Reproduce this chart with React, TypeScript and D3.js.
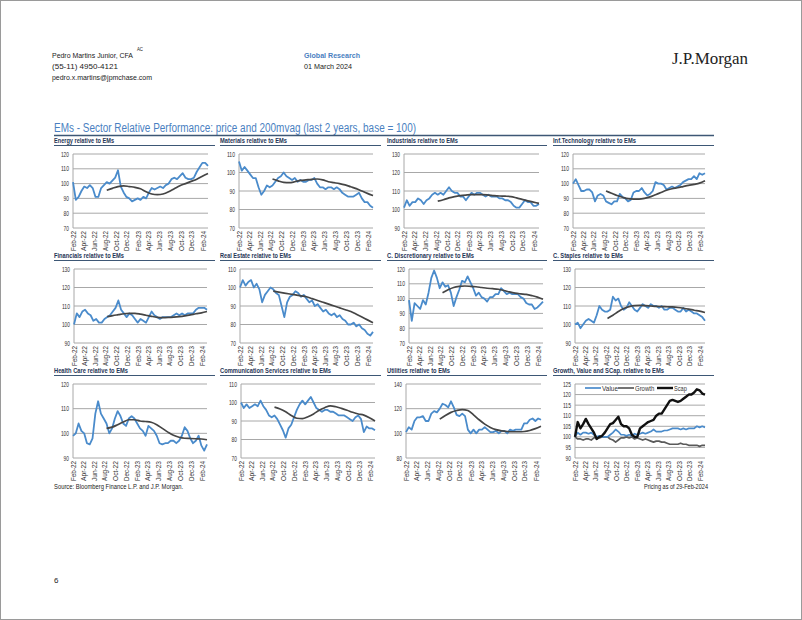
import React from 'react';
import * as d3 from 'd3';

// ---------- DATA ----------
const xTickLabels = ['Feb-22','Apr-22','Jun-22','Aug-22','Oct-22','Dec-22','Feb-23','Apr-23','Jun-23','Aug-23','Oct-23','Dec-23','Feb-24'];

const energy = [101,89,91,95,98,97,99,97,91,91, 97,99,101,100,102,104,109,98,94,91, 90,88,89,90,89,91,90,94,97,96, 97,98,97,99,100,103,104,103,105,107, 104,103,103,104,108,111,114,114,112];
const energyMA = [95.5,96.8,98,98.5,98,97.5,96.5,94.5,93,92.5,93,94.5,96.5,98.5,100,101.5,103,105,106.8];

const materials = [106,101,103,101,99,97,97,92,88,90, 93,92,93,95,97,98,100,98,97,96, 97,95,96,95,95,96,96,97,94,92, 92,91,92,92,91,92,91,89,88,87, 87,87,88,89,86,84,84,82,81];
const materialsMA = [96.5,95.5,94.7,94.5,95,95.7,96,96.3,96.5,96,95,94.5,94,93.3,92.3,91.3,90,88.7,87.5];

const industrials = [101,105,102,104,104,106,105,103,105,106, 108,109,108,109,108,110,112,110,109,109, 107,107,105,107,109,108,109,109,108,107, 108,107,107,107,106,106,105,105,104,102, 101,101,103,105,104,104,102,102,103];
const industrialsMA = [104.5,105.3,106.3,107,107.5,107.8,108,108,108,107.8,107.5,107.3,107.2,107,106.3,105.5,104.7,104,103.3];

const infTech = [100,103,99,95,95,96,96,94,88,92, 93,92,88,87,86,88,88,93,91,90, 88,89,94,95,95,97,94,92,93,95, 101,100,100,99,96,97,98,97,98,99, 101,102,103,103,105,103,107,106,107];
const infTechMA = [95,93.5,92,90.8,89.8,89.5,89.5,90,91,92.5,94,95.5,96.5,97.2,98,98.8,99.5,100.3,102];

const financials = [100,106,104,107,108,106,105,102,103,101, 101,103,104,105,107,109,113,108,106,104, 106,105,103,101,103,102,101,104,107,105, 104,103,104,104,104,104,105,106,105,106, 105,106,106,106,108,109,109,109,108];
const financialsMA = [104.2,104.8,105.3,105.8,106,106,105.6,105,104.4,103.9,103.7,103.8,104,104.3,104.7,105.2,105.8,106.3,107];

const realEstate = [100,104,101,103,104,100,102,99,92,96, 98,100,99,97,96,90,84,92,95,96, 98,97,95,96,94,92,93,90,91,89, 87,88,86,85,86,84,85,83,82,80, 80,81,79,80,78,77,75,74,76];
const realEstateMA = [98,97.5,97,96.5,96,95.5,95,94,93,92,91,90,89,88,87,85.5,84,82.5,81];

const discretionary = [99,85,97,95,93,99,96,104,114,119, 114,107,111,108,109,104,95,101,106,112, 111,115,111,107,102,104,101,100,98,101, 101,103,103,107,105,103,104,103,103,103, 101,100,97,96,96,93,94,96,98];
const discretionaryMA = [104,106,107.5,108.2,108.5,108.3,108,107.5,107,106.7,106.3,105.5,104.5,103.7,103.2,102.8,102,101,99.5];

const staples = [100,101,98,100,102,103,102,101,105,110, 108,107,107,108,115,113,114,110,108,109, 112,110,108,107,109,111,110,109,111,110, 110,109,110,108,108,109,109,108,107,107, 109,107,108,107,106,106,105,104,102];
const staplesMA = [103.3,105,107,108.7,109.7,110.2,110.3,110.2,110,109.8,109.7,109.6,109.5,109.2,108.8,108.3,107.7,107.2,106.5];

const healthCare = [99,100,104,101,100,96,95.5,98,108,113, 108,106,104,100,102,106,109,107,104,103, 106,107,106,104,102,101,99,103,102,101, 99,96,95.5,96,96,97,97,96,97,99, 102.5,101,98,96,97,99,95,93,95.5];
const healthCareMA = [102,102.5,103.5,104.6,105.5,105.5,105,104.8,104.5,103.5,102,100.5,99.2,98.4,98,97.9,97.8,97.7,97.4];

const commServices = [100,97,99,97,98,99,98,101,98,96, 93,92,93,91,88,85,81,86,88,92, 96,99,101,99,101,103,100,97,96,95, 96,96,95,95,94,93,93,93,92,91, 90,92,93,91,84,87,86,86,85];
const commServicesMA = [97.5,96.5,95,93,91.5,91.3,92.3,93.8,95.8,97.2,98.2,97.7,96.8,95.8,94.7,93.8,93.2,91.8,90];

const utilities = [101,105,103,110,113,113,114,110,110,116, 118,117,120,124,123,121,126,121,115,114, 116,114,103,100,103,100,103,103,105,103, 101,101,102,100,102,102,100,103,102,103, 103,103,108,108,111,112,110,112,111];
const utilitiesMA = [111.5,114.5,117,118.5,119.3,118.5,115,111,107.5,104.8,103,102,101.5,101.3,101.3,101.5,102.3,103.8,105.8];

const styleValue = [100,102,101,102,102,101.5,102,101,100,100.5, 100,100,100,101,102,103.5,102.5,101,101,100.5, 101,100.5,101.5,101,101.5,102,101.5,102,102.5,103.5, 102.5,102.5,102.5,103,103,103.5,104,104,104,103.5, 104,103.5,104,104,104,105,104.5,105,104.5];
const styleGrowth = [100,99,99,98.5,99,99,98.5,99.5,100,99.5, 100,100,100,99,98.5,97.5,98.5,99.5,99.5,100, 99.5,100,99,99.5,99,98.5,99,98.5,98,97.5, 98,98,97.5,97.5,97,96.5,96.5,96.5,96.5,97, 96.5,96.5,96,96,96,96,95.5,96,96];
const styleScap = [100,107,104,106,108.5,106,104,102,99,100, 100.5,102,104,106,106.5,108,109.5,106,105,105, 104,101,100,100,104,105,106,107,107.5,108, 110,111,111,113,115,117,117.5,117,116.5,117, 118,119,120,120,121,122.5,122,120.5,120];

const panelTitles = ['Energy relative to EMs','Materials relative to EMs','Industrials relative to EMs','Inf.Technology relative to EMs','Financials relative to EMs','Real Estate relative to EMs','C. Discretionary relative to EMs','C. Staples relative to EMs','Health Care relative to EMs','Communication Services relative to EMs','Utilities relative to EMs','Growth, Value and SCap. relative to EMs'];
const priceSeries = [energy, materials, industrials, infTech, financials, realEstate, discretionary, staples, healthCare, commServices, utilities];
const maSeries = [energyMA, materialsMA, industrialsMA, infTechMA, financialsMA, realEstateMA, discretionaryMA, staplesMA, healthCareMA, commServicesMA, utilitiesMA];
const yTickSets = [
  [70,80,90,100,110,120],[70,80,90,100,110],[90,100,110,120,130],[70,80,90,100,110,120],
  [90,100,110,120,130],[70,80,90,100,110],[70,80,90,100,110,120],[90,100,110,120,130],
  [90,100,110,120],[70,80,90,100,110],[80,100,120,140],[90,95,100,105,110,115,120,125],
];
const legendLabels = ['Value','Growth','Scap'];

// ---------- LAYOUT / STYLE ----------
const FONT = "'Liberation Sans', Arial, Helvetica, sans-serif";
const BLUE = '#4a8bcb';
const MA_COLOR = '#454545';
const GRID = '#a8a8a8';
const NAVY = '#1f3556';
const RULE = '#3d5775';

const colTitleX = [54, 220, 387, 553];
const colRuleEnd = [215, 381, 547, 714];
const rowTitleY = [140, 255, 370];
const rowTop = [154, 269, 384];
const rowBottom = [228, 343, 458];
const plotLR = [
  [73,208],[239,373],[404,539],[573,705],
  [74,207],[240,373],[409,543],[575,705],
  [73,207],[241,375],[406,541],[575,705],
];
const titleWidths = [60,67,71,83,70,71,87,70,74,111,63,111];

const startDate = new Date(2022, 1, 1);
const endDate = new Date(2024, 1, 29);
const N = energy.length;
const dates = d3.range(N).map(i => new Date(+startDate + (i * (+endDate - +startDate)) / (N - 1)));
const maIdx = d3.range(12, N, 2);
const xTickDates = xTickLabels.map(l => d3.timeParse('%b-%y')(l) as Date);

function Txt(props: any) {
  const { x, y, w, size = 7, anchor = 'start', fill = '#222', weight = 'normal', transform, children, baseline, family } = props;
  return (
    <text x={x} y={y} transform={transform} fontSize={size} fontFamily={family || FONT} fontWeight={weight}
      fill={fill} textAnchor={anchor} dominantBaseline={baseline}
      textLength={w} lengthAdjust={w ? 'spacingAndGlyphs' : undefined}>{children}</text>
  );
}

function Panel({ idx }: { idx: number }) {
  const row = Math.floor(idx / 4), col = idx % 4;
  const [L, R] = plotLR[idx];
  const top = rowTop[row], bottom = rowBottom[row];
  const ticks = yTickSets[idx];
  const x = d3.scaleTime().domain([startDate, endDate]).range([L, R]);
  const y = d3.scaleLinear().domain([ticks[0], ticks[ticks.length - 1]]).range([bottom, top]);
  const line = d3.line<number>().x((_, i) => x(dates[i])).y(d => y(d));
  const maLine = d3.line<number>().x((_, k) => x(dates[maIdx[k]])).y(d => y(d)).curve(d3.curveMonotoneX);
  const tx = colTitleX[col], ty = rowTitleY[row];
  return (
    <g>
      <Txt x={tx} y={ty + 2.5} w={titleWidths[idx]} size={8} weight="bold" fill={NAVY}>{panelTitles[idx]}</Txt>
      <line x1={tx} x2={colRuleEnd[col]} y1={ty + 5.5} y2={ty + 5.5} stroke={RULE} strokeWidth={1.2} />
      {ticks.map(t => (
        <g key={t}>
          <line x1={L} x2={R} y1={y(t)} y2={y(t)} stroke={GRID} strokeWidth={1} />
          <Txt x={L - 4} y={y(t) + 2.5} w={String(t).length * 2.7} size={7.3} anchor="end" fill="#333">{t}</Txt>
        </g>
      ))}
      <line x1={L} x2={L} y1={top} y2={bottom} stroke={GRID} strokeWidth={1} />
      {xTickDates.map((d, k) => (
        <Txt key={k} transform={`translate(${x(d)},${bottom + 3}) rotate(-90)`} x={0} y={0} w={20} size={7.5}
          anchor="end" baseline="central" fill="#333">{xTickLabels[k]}</Txt>
      ))}
      {idx < 11 ? (
        <g>
          <path d={line(priceSeries[idx]) || ''} fill="none" stroke={BLUE} strokeWidth={1.8} strokeLinejoin="round" />
          <path d={maLine(maSeries[idx]) || ''} fill="none" stroke={MA_COLOR} strokeWidth={1.7} />
        </g>
      ) : (
        <g>
          <path d={line(styleGrowth) || ''} fill="none" stroke="#5a5a5a" strokeWidth={1.7} strokeLinejoin="round" />
          <path d={line(styleValue) || ''} fill="none" stroke={BLUE} strokeWidth={1.7} strokeLinejoin="round" />
          <path d={line(styleScap) || ''} fill="none" stroke="#111" strokeWidth={2.4} strokeLinejoin="round" />
          {legendLabels.map((lab, k) => {
            const lx = [585, 618, 657][k];
            const colr = [BLUE, '#5a5a5a', '#111'][k];
            return (
              <g key={lab}>
                <line x1={lx} x2={lx + 16} y1={388} y2={388} stroke={colr} strokeWidth={k === 2 ? 2.4 : 1.7} />
                <Txt x={lx + 17} y={390.5} w={lab.length * 3.2} size={7} fill="#333">{lab}</Txt>
              </g>
            );
          })}
        </g>
      )}
    </g>
  );
}

export default function App() {
  return (
    <svg width={802} height={620} style={{ position: 'absolute', left: 0, top: 0, background: '#fff' }}>
      <rect x={0.5} y={0.5} width={801} height={619} fill="#fff" stroke="#9a9a9a" strokeWidth={1} />
      <Txt x={52} y={58} w={81} size={8} fill="#222">Pedro Martins Junior, CFA</Txt>
      <Txt x={137} y={51} w={6} size={4.5} fill="#222">AC</Txt>
      <Txt x={52} y={69} w={66} size={8} fill="#222">(55-11) 4950-4121</Txt>
      <Txt x={52} y={80} w={100} size={8} fill="#222">pedro.x.martins@jpmchase.com</Txt>
      <Txt x={304} y={58} w={56} size={8} fill="#4a7fc1" weight="bold">Global Research</Txt>
      <Txt x={304} y={69} w={48} size={8} fill="#222">01 March 2024</Txt>
      <Txt x={672} y={64} w={76} size={17} fill="#222" family="'Liberation Serif', 'DejaVu Serif', serif">J.P.Morgan</Txt>
      <Txt x={54} y={132} w={362} size={12.5} fill="#4a7fc1">EMs - Sector Relative Performance: price and 200mvag (last 2 years, base = 100)</Txt>
      <line x1={54} x2={714} y1={135.5} y2={135.5} stroke={RULE} strokeWidth={1.6} />
      {d3.range(12).map(i => <Panel key={i} idx={i} />)}
      <Txt x={54} y={489} w={129} size={7.5} fill="#222">Source: Bloomberg Finance L.P. and J.P. Morgan.</Txt>
      <Txt x={708} y={489} w={64} size={7.5} anchor="end" fill="#222">Pricing as of 29-Feb-2024</Txt>
      <Txt x={54} y={583} size={8} fill="#222">6</Txt>
    </svg>
  );
}
